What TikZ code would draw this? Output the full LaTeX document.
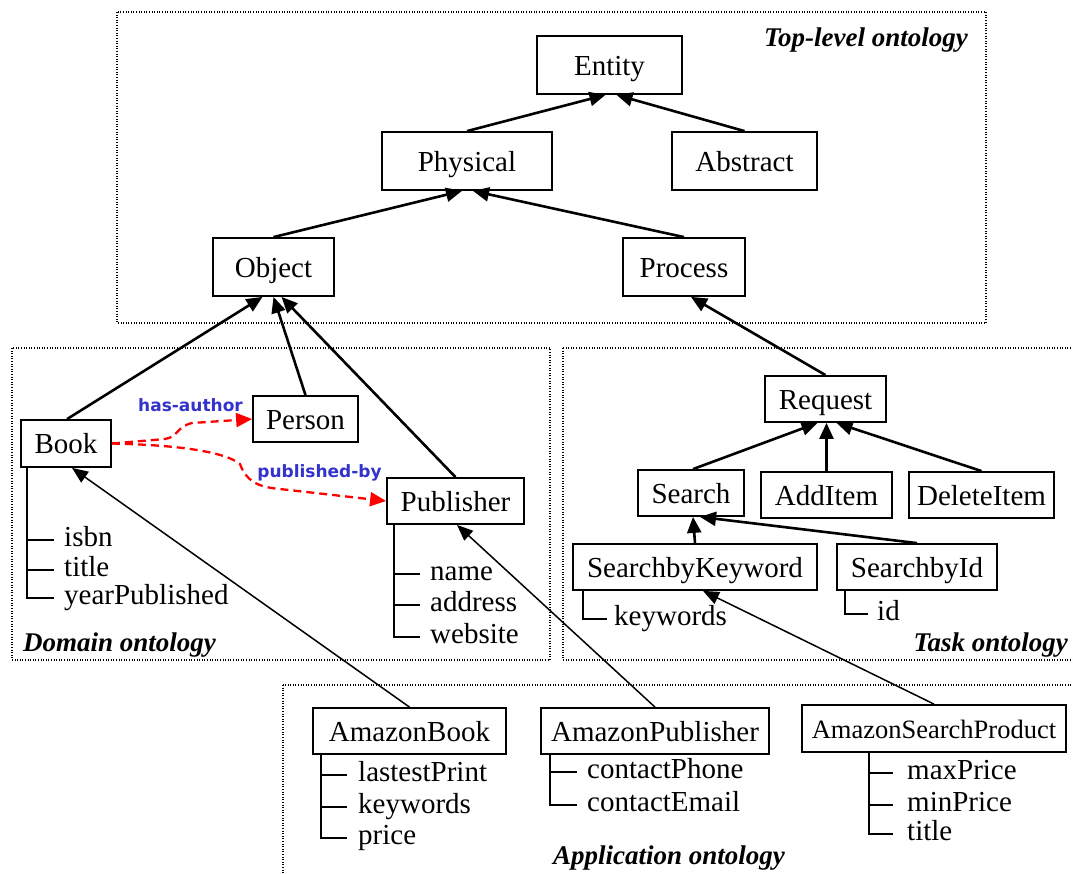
\documentclass[tikz,border=0pt]{standalone}
\usepackage{fontspec}
\setmainfont{Liberation Serif}
\newfontfamily\lblfamily{DejaVu Sans}
\usetikzlibrary{arrows.meta}
\definecolor{lblblue}{RGB}{51,51,204}
\newcommand\nodefnt{\fontsize{29}{33}\selectfont}
\newcommand\aspfnt{\fontsize{26.5}{30}\selectfont}
\newcommand\titlefnt{\fontsize{27}{31}\selectfont\bfseries\itshape}
\newcommand\relfnt{\lblfamily\bfseries\fontsize{17}{20}\selectfont}
\begin{document}
\begin{tikzpicture}[x=1pt,y=-1pt,
  box/.style={draw, line width=1.8pt, inner sep=0pt, font=\nodefnt, text height=22pt, text depth=2pt},
  isa/.style={line width=2.6pt, -{Triangle[length=16pt,width=14pt]}},
  isathin/.style={line width=1.5pt, -{Triangle[length=16pt,width=13pt]}},
  rel/.style={red, line width=2.3pt, dash pattern=on 8pt off 5pt, -{Triangle[length=16pt,width=14pt]}},
  attr/.style={anchor=west, inner sep=0pt, font=\nodefnt, text height=19pt, text depth=6pt},
  attrline/.style={line width=2.2pt},
  region/.style={dash pattern=on 1pt off 1.6pt, line width=1.1pt},
  title/.style={font=\titlefnt, inner sep=0pt},
  rlabel/.style={font=\relfnt, text=lblblue, inner sep=0pt}
]
\useasboundingbox (0,0) rectangle (1073,873);

% regions
\draw[region] (117,12) rectangle (986,323);
\draw[region] (12,348) rectangle (550,660);
\draw[region] (563,348) rectangle (1090,660);
\draw[region] (283,685) rectangle (1090,900);

\node[title, anchor=base east] (ttop) at (968,46) {Top-level ontology};
\node[title, anchor=base west] (tdom) at (23,651) {Domain ontology};
\node[title, anchor=base east] (ttask) at (1068,651) {Task ontology};
\node[title, anchor=base] (tapp) at (669,864) {Application ontology};

% top-level
\node[box, minimum width=145, minimum height=58] (entity) at (609.5,65) {Entity};
\node[box, minimum width=170, minimum height=58] (physical) at (467,161) {Physical};
\node[box, minimum width=145, minimum height=58] (abstract) at (744.5,161) {Abstract};
\node[box, minimum width=121, minimum height=58] (object) at (273.5,267) {Object};
\node[box, minimum width=122, minimum height=58] (process) at (684,267) {Process};

% domain
\node[box, minimum width=90, minimum height=47] (book) at (66,443.5) {Book};
\node[box, minimum width=105, minimum height=46] (person) at (305.5,419) {Person};
\node[box, minimum width=137, minimum height=46] (publisher) at (455.5,501) {Publisher};

% task
\node[box, minimum width=121, minimum height=46] (request) at (825.5,399) {Request};
\node[box, minimum width=106, minimum height=46] (search) at (691,493) {Search};
\node[box, minimum width=131, minimum height=46] (additem) at (826.5,495) {AddItem};
\node[box, minimum width=145, minimum height=46] (deleteitem) at (981.5,495) {DeleteItem};
\node[box, minimum width=244, minimum height=46] (sbk) at (695,567) {SearchbyKeyword};
\node[box, minimum width=160, minimum height=46] (sbi) at (917,567) {SearchbyId};

% application
\node[box, minimum width=193, minimum height=46] (abook) at (409.5,731) {AmazonBook};
\node[box, minimum width=228, minimum height=46] (apub) at (655,731) {AmazonPublisher};
\node[box, font=\aspfnt, minimum width=264, minimum height=47] (asp) at (934,728.5) {AmazonSearchProduct};

% is-a connectors
\draw[isa] (physical.north) -- ([xshift=-4pt]entity.south);
\draw[isa] (abstract.north) -- ([xshift=7pt]entity.south);
\draw[isa] (object.north) -- ([xshift=-5pt]physical.south);
\draw[isa] (process.north) -- ([xshift=6pt]physical.south);
\draw[isa] ([xshift=1pt]book.north) -- ([xshift=-11pt]object.south);
\draw[isa] (person.north) -- ([xshift=0pt]object.south);
\draw[isa] (publisher.north) -- ([xshift=8pt]object.south);
\draw[isa] (request.north) -- ([xshift=7pt]process.south);
\draw[isa] ([xshift=2pt]search.north) -- ([xshift=-8pt]request.south);
\draw[isa] (additem.north) -- ([xshift=1pt]request.south);
\draw[isa] (deleteitem.north) -- ([xshift=11pt]request.south);
\draw[isa] (sbk.north) -- ([xshift=2pt]search.south);
\draw[isa] (sbi.north) -- ([xshift=9pt]search.south);
\draw[isathin] (abook.north) -- ([xshift=6pt]book.south);
\draw[isathin] (apub.north) -- ([xshift=1.5pt]publisher.south);
\draw[isathin] (asp.north) -- ([xshift=8pt]sbk.south);

% relations
\draw[rel] (book.east) -- (165,439) .. controls (178,437) and (176,427) .. (192,423) -- (person.west);
\draw[rel] (book.east) .. controls (180,445) and (225,452) .. (240,464) .. controls (246,480) and (256,487) .. (280,489) -- (publisher.west);
\node[rlabel] (hasauthor) at (190.5,405) {has-author};
\node[rlabel] (pubby) at (319.5,473) {published-by};

% attributes: Book
\node[attr] (isbn) at (64,540) {isbn};
\node[attr] (btitle) at (64,570) {title};
\node[attr] (year) at (64,598) {yearPublished};
\draw[attrline] ([xshift=7pt]book.south west) |- ([xshift=-10pt]isbn.west);
\draw[attrline] ([xshift=7pt]book.south west) |- ([xshift=-10pt]btitle.west);
\draw[attrline] ([xshift=7pt]book.south west) |- ([xshift=-10pt]year.west);

% Publisher
\node[attr] (pname) at (430,574) {name};
\node[attr] (paddr) at (430,605) {address};
\node[attr] (pweb) at (430,637) {website};
\draw[attrline] ([xshift=8pt]publisher.south west) |- ([xshift=-10pt]pname.west);
\draw[attrline] ([xshift=8pt]publisher.south west) |- ([xshift=-10pt]paddr.west);
\draw[attrline] ([xshift=8pt]publisher.south west) |- ([xshift=-10pt]pweb.west);

% SearchbyKeyword / SearchbyId
\node[attr] (kw) at (614,619) {keywords};
\draw[attrline] ([xshift=11pt]sbk.south west) |- ([xshift=-7pt]kw.west);
\node[attr] (id) at (877,614) {id};
\draw[attrline] ([xshift=9pt]sbi.south west) |- ([xshift=-9pt]id.west);

% AmazonBook
\node[attr] (lp) at (358,775) {lastestPrint};
\node[attr] (akw) at (358,807) {keywords};
\node[attr] (apr) at (358,838) {price};
\draw[attrline] ([xshift=9pt]abook.south west) |- ([xshift=-11pt]lp.west);
\draw[attrline] ([xshift=9pt]abook.south west) |- ([xshift=-11pt]akw.west);
\draw[attrline] ([xshift=9pt]abook.south west) |- ([xshift=-11pt]apr.west);

% AmazonPublisher
\node[attr] (cph) at (587,772) {contactPhone};
\node[attr] (cem) at (587,805) {contactEmail};
\draw[attrline] ([xshift=10pt]apub.south west) |- ([xshift=-10pt]cph.west);
\draw[attrline] ([xshift=10pt]apub.south west) |- ([xshift=-10pt]cem.west);

% AmazonSearchProduct
\node[attr] (maxp) at (907,773) {maxPrice};
\node[attr] (minp) at (907,805) {minPrice};
\node[attr] (stitle) at (907,834) {title};
\draw[attrline] ([xshift=68pt]asp.south west) |- ([xshift=-14pt]maxp.west);
\draw[attrline] ([xshift=68pt]asp.south west) |- ([xshift=-14pt]minp.west);
\draw[attrline] ([xshift=68pt]asp.south west) |- ([xshift=-14pt]stitle.west);
\end{tikzpicture}
\end{document}
